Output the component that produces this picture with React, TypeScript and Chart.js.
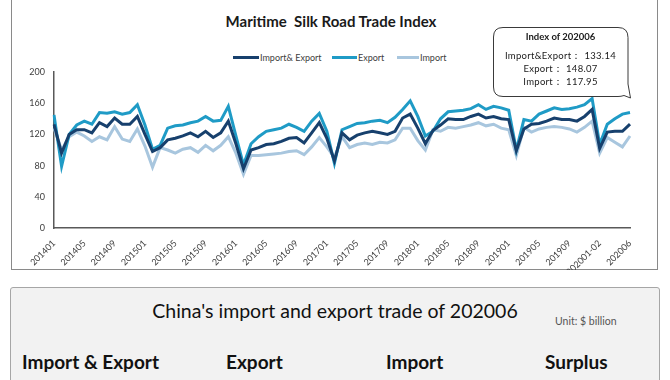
import React, { useEffect, useRef } from "react";
import { Chart, registerables } from "chart.js";

Chart.register(...registerables);

const months: string[] = [
  "201401","201402","201403","201404","201405","201406","201407","201408","201409","201410","201411","201412",
  "201501","201502","201503","201504","201505","201506","201507","201508","201509","201510","201511","201512",
  "201601","201602","201603","201604","201605","201606","201607","201608","201609","201610","201611","201612",
  "201701","201702","201703","201704","201705","201706","201707","201708","201709","201710","201711","201712",
  "201801","201802","201803","201804","201805","201806","201807","201808","201809","201810","201811","201812",
  "201901","201902","201903","201904","201905","201906","201907","201908","201909","201910","201911","201912",
  "202001-02","202003","202004","202005","202006",
];

const importExport: number[] = [
  133, 96, 120, 126, 126, 122, 135, 130, 141, 133, 133, 143,
  120, 98, 103, 113, 115, 118, 122, 117, 124, 116, 122, 137,
  108, 76, 100, 103, 107, 108, 111, 115, 116, 109, 122, 135,
  115, 86, 122, 113, 119, 122, 124, 122, 120, 124, 141, 146,
  128, 108, 125, 132, 140, 139, 139, 143, 146, 141, 143, 140,
  139, 99, 127, 133, 134, 137, 141, 139, 139, 137, 143, 152,
  102, 123, 124, 124, 133.14,
];

const exportIdx: number[] = [
  145, 79, 120, 132, 137, 133, 148, 147, 149, 146, 148, 158,
  132, 101, 106, 128, 131, 132, 135, 137, 143, 137, 138, 156,
  118, 81, 108, 117, 124, 126, 128, 133, 129, 124, 137, 147,
  124, 83, 126, 130, 134, 135, 137, 138, 135, 142, 152, 163,
  143, 118, 124, 140, 149, 150, 151, 153, 158, 152, 156, 154,
  151, 100, 139, 137, 146, 150, 154, 152, 153, 155, 158, 166,
  107, 133, 140, 146, 148.07,
];

const importIdx: number[] = [
  128, 100, 117, 123, 118, 111, 117, 113, 130, 114, 111, 127,
  105, 78, 103, 100, 96, 101, 103, 97, 106, 99, 106, 117,
  96, 69, 93, 93, 94, 95, 96, 98, 99, 94, 104, 116,
  104, 90, 117, 103, 107, 109, 107, 110, 109, 113, 128, 128,
  112, 100, 126, 124, 129, 128, 130, 132, 135, 131, 133, 128,
  126, 93, 129, 123, 127, 129, 130, 129, 127, 123, 129, 137,
  96, 116, 110, 104, 117.95,
];

const seriesNames: string[] = ["Import& Export", "Export", "Import"];
const seriesColors: string[] = ["#17406d", "#1f9bc6", "#a8c6de"];

const calloutTitle = "Index of 202006";
const calloutLines: string[] = [
  "Import&Export： 133.14",
  "Export： 148.07",
  "Import： 117.95",
];

const tradeTitle = "China's import and export trade of 202006";
const tradeUnit = "Unit: $ billion";
const tradeHeaders: string[] = ["Import & Export", "Export", "Import", "Surplus"];

const FONT = "Lato, 'Open Sans', sans-serif";

function LineChart() {
  const ref = useRef<HTMLCanvasElement | null>(null);
  useEffect(() => {
    if (!ref.current) return;
    const chart = new Chart(ref.current, {
      type: "line",
      data: {
        labels: months,
        datasets: [importExport, exportIdx, importIdx].map((d, i) => ({
          label: seriesNames[i],
          data: d,
          borderColor: seriesColors[i],
          backgroundColor: seriesColors[i],
          borderWidth: 3,
          pointRadius: 0,
          tension: 0,
          fill: false,
        })),
      },
      options: {
        animation: false,
        responsive: false,
        maintainAspectRatio: false,
        layout: { padding: { top: 10, right: 28, left: 0, bottom: 0 } },
        plugins: {
          legend: { display: false },
          title: { display: false },
          tooltip: { enabled: false },
        },
        scales: {
          x: {
            offset: false,
            grid: { display: false },
            border: { display: true, color: "#595959", width: 1.5 },
            ticks: {
              autoSkip: false,
              maxRotation: 45,
              minRotation: 45,
              padding: 2,
              color: "#404040",
              font: { family: FONT, size: 9 },
              callback: (_v: any, i: number) => (i % 4 === 0 ? months[i] : ""),
            },
            afterFit: (s: any) => {
              s.height = 42;
            },
          },
          y: {
            min: 0,
            max: 200,
            grid: { display: false },
            border: { display: true, color: "#595959", width: 1.5 },
            ticks: {
              stepSize: 40,
              padding: 1,
              color: "#404040",
              font: { family: FONT, size: 9 },
            },
            afterFit: (s: any) => {
              s.width = 42;
            },
          },
        },
      },
    });
    return () => chart.destroy();
  }, []);
  return (
    <canvas
      ref={ref}
      width={646}
      height={208}
      style={{ position: "absolute", left: 12, top: 62, width: 646, height: 208 }}
    />
  );
}

export default function App() {
  return (
    <div
      style={{
        position: "absolute",
        left: 0,
        top: 0,
        width: 670,
        height: 380,
        overflow: "hidden",
        background: "#ffffff",
        fontFamily: FONT,
      }}
    >
      {/* top panel */}
      <div
        style={{
          position: "absolute",
          left: 11,
          top: -6,
          width: 647,
          height: 276,
          border: "1.5px solid #8a8a8a",
          boxSizing: "border-box",
        }}
      />
      <div
        style={{
          position: "absolute",
          left: 131,
          top: 10,
          width: 400,
          textAlign: "center",
          fontSize: 15,
          fontWeight: 700,
          lineHeight: "22px",
          color: "#1a1a1a",
        }}
      >
        Maritime&nbsp; Silk Road Trade Index
      </div>
      {/* legend */}
      {seriesNames.map((n, i) => {
        const x = [233, 332, 397][i];
        const w = [26, 25, 22][i];
        return (
          <div key={n}>
            <div
              style={{
                position: "absolute",
                left: x,
                top: 56,
                width: w,
                height: 3,
                background: seriesColors[i],
              }}
            />
            <div
              style={{
                position: "absolute",
                left: x + w + 1,
                top: 51,
                fontSize: 9,
                lineHeight: "13px",
                color: "#404040",
                whiteSpace: "nowrap",
              }}
            >
              {n}
            </div>
          </div>
        );
      })}
      <LineChart />
      {/* callout */}
      <svg
        width={150}
        height={85}
        style={{ position: "absolute", left: 488, top: 22 }}
      >
        <path
          d="M 15 5.5 L 130 5.5 Q 140 5.5 140 15.5 L 140 62 L 142.5 76 L 136 73.5 Q 133 74.5 130 74.5 L 15 74.5 Q 5.5 74.5 5.5 65 L 5.5 15 Q 5.5 5.5 15 5.5 Z"
          fill="#ffffff"
          stroke="#3a3a3a"
          strokeWidth={1}
        />
      </svg>
      <div
        style={{
          position: "absolute",
          left: 493,
          top: 30,
          width: 135,
          textAlign: "center",
          fontSize: 9.5,
          color: "#1a1a1a",
        }}
      >
        <div style={{ fontWeight: 700, lineHeight: "14px", marginBottom: 5 }}>{calloutTitle}</div>
        {calloutLines.map((t) => (
          <div key={t} style={{ lineHeight: "13px", letterSpacing: 0.3 }}>
            {t}
          </div>
        ))}
      </div>
      {/* bottom panel */}
      <div
        style={{
          position: "absolute",
          left: 10,
          top: 287,
          width: 650,
          height: 110,
          background: "#f2f2f2",
          border: "1px solid #a6a6a6",
          borderRadius: 3,
          boxSizing: "border-box",
        }}
      />
      <div
        style={{
          position: "absolute",
          left: 85,
          top: 298,
          width: 500,
          textAlign: "center",
          fontSize: 19.5,
          lineHeight: "26px",
          color: "#111",
        }}
      >
        {tradeTitle}
      </div>
      <div
        style={{
          position: "absolute",
          left: 555,
          top: 314,
          fontSize: 10.5,
          lineHeight: "14px",
          color: "#555",
          whiteSpace: "nowrap",
        }}
      >
        {tradeUnit}
      </div>
      {tradeHeaders.map((h, i) => (
        <div
          key={h}
          style={{
            position: "absolute",
            left: [22, 226, 386, 545][i],
            top: 349,
            fontSize: 19,
            fontWeight: 700,
            lineHeight: "26px",
            color: "#111",
            whiteSpace: "nowrap",
          }}
        >
          {h}
        </div>
      ))}
    </div>
  );
}
